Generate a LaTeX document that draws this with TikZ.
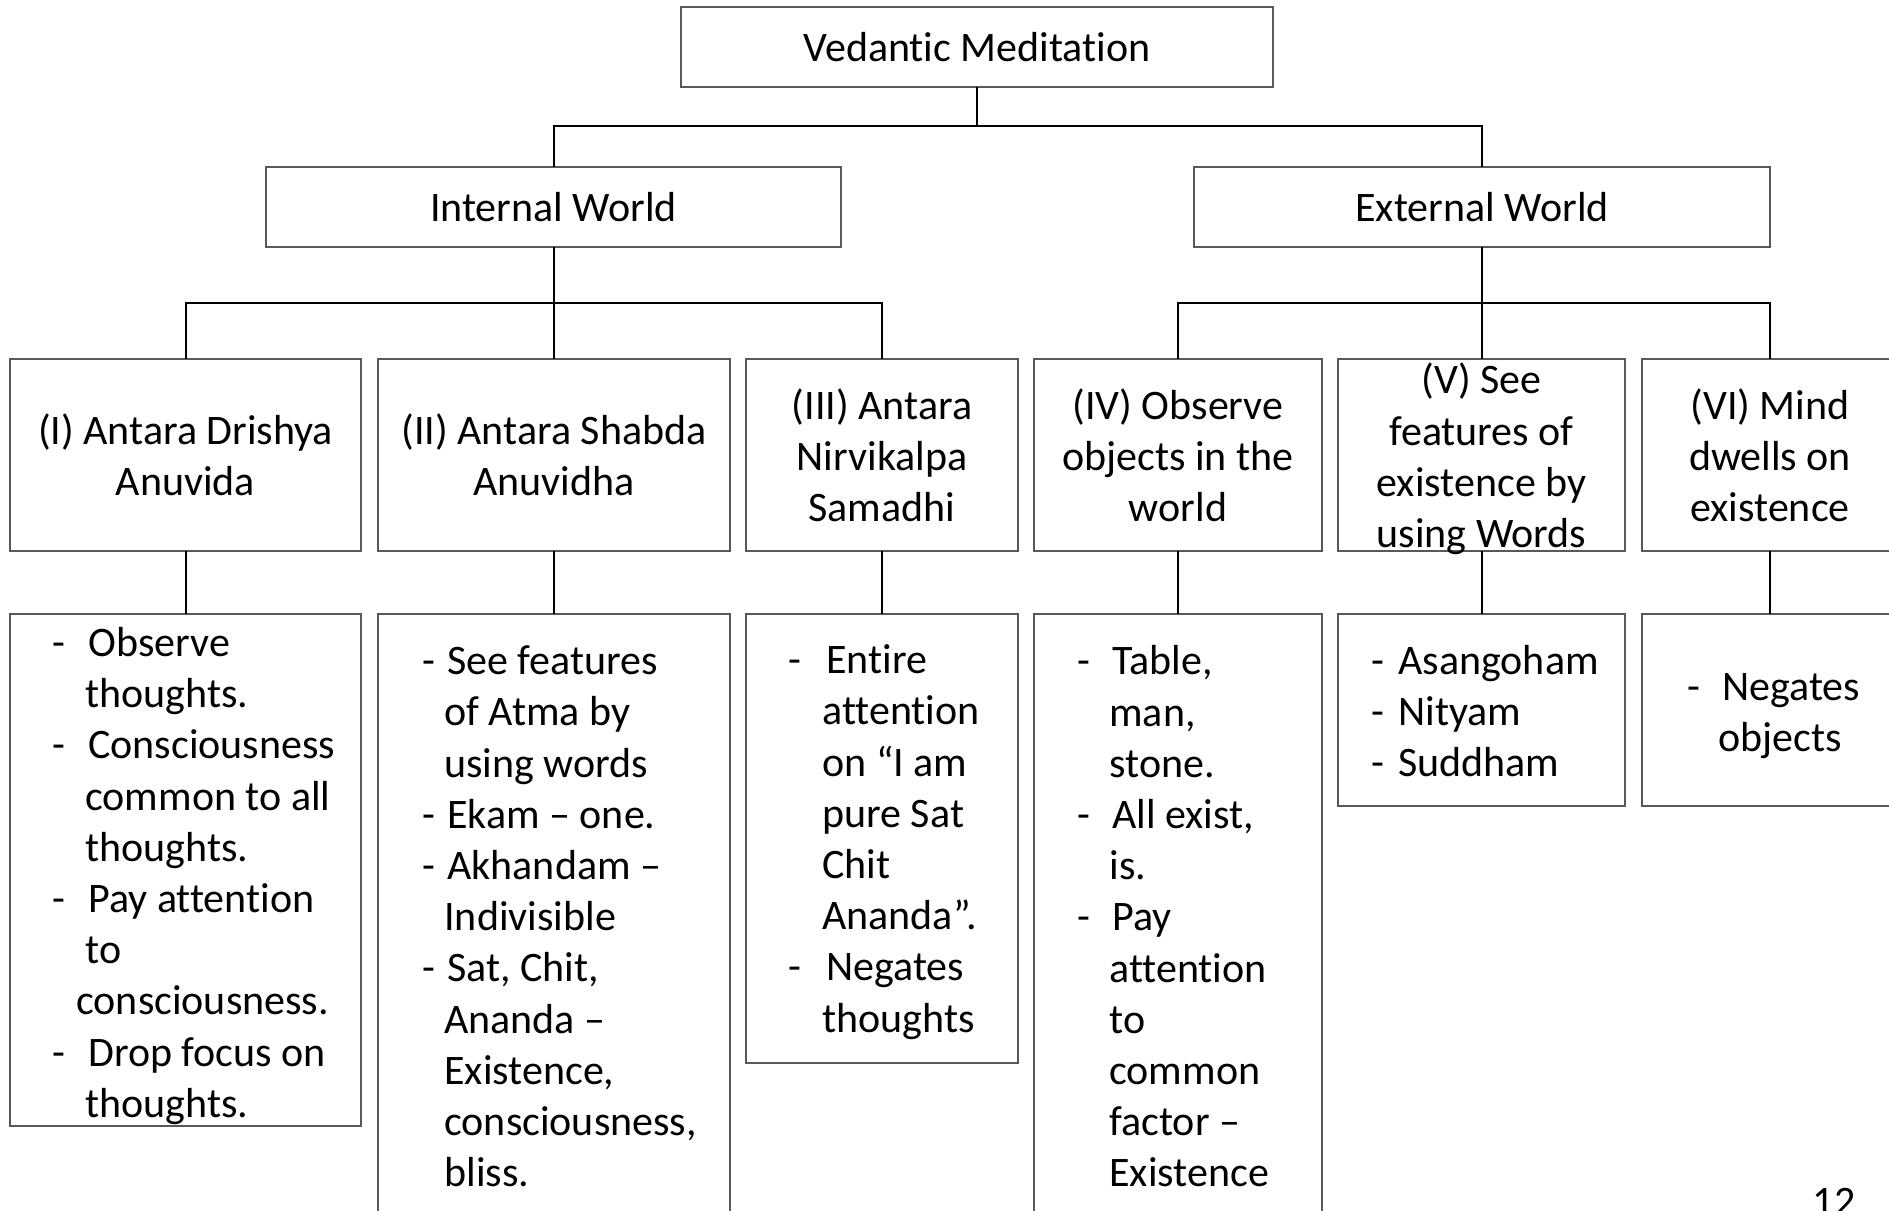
\documentclass[tikz,border=0pt]{standalone}
\usepackage{fontspec}
\setmainfont{Carlito}[Ligatures={TeX,NoCommon}]
\definecolor{boxgray}{HTML}{595959}
% a bullet line: dash, then the text at a fixed indent
\newcommand{\dl}[2]{\makebox[#1][l]{-}#2}
% a continuation line at its own indent
\newcommand{\cl}[2]{\hspace*{#1}#2}
\begin{document}
\begin{tikzpicture}[x=0.5pt,y=-0.5pt,
  frame/.style={draw=boxgray,line width=0.85pt,rectangle,inner sep=0pt,outer sep=0pt},
  link/.style={draw=black,line width=1pt},
  title/.style={inner sep=0pt,align=center,font=\fontsize{21}{25.6}\selectfont},
  items/.style={inner sep=0pt,align=left,anchor=west,font=\fontsize{21}{25.6}\selectfont}]
\useasboundingbox (0,0) rectangle (1889,1210);

% level 1
\node[frame,minimum width=296pt,minimum height=40pt] (top) at (977,47) {};
% level 2
\node[frame,minimum width=287.5pt,minimum height=40pt] (int) at (553.5,207) {};
\node[frame,minimum width=288pt,minimum height=40pt] (ext) at (1482,207) {};
% level 3
\node[frame,minimum width=175.5pt,minimum height=96pt] (a1) at (185.5,455) {};
\node[frame,minimum width=176pt,minimum height=96pt] (a2) at (554,455) {};
\node[frame,minimum width=136pt,minimum height=96pt] (a3) at (882,455) {};
\node[frame,minimum width=144pt,minimum height=96pt] (a4) at (1178,455) {};
\node[frame,minimum width=143.5pt,minimum height=96pt] (a5) at (1481.5,455) {};
\node[frame,minimum width=128pt,minimum height=96pt] (a6) at (1770,455) {};
% level 4
\node[frame,minimum width=175.5pt,minimum height=256pt] (b1) at (185.5,870) {};
\node[frame,minimum width=176pt,minimum height=301.5pt] (b2) at (554,915.5) {};
\node[frame,minimum width=136pt,minimum height=224.5pt] (b3) at (882,838.5) {};
\node[frame,minimum width=144pt,minimum height=301.5pt] (b4) at (1178,915.5) {};
\node[frame,minimum width=143.5pt,minimum height=96pt] (b5) at (1481.5,710) {};
\node[frame,minimum width=128pt,minimum height=96pt] (b6) at (1770,710) {};

% junctions of the bus lines
\coordinate (j0) at (977,126);
\coordinate (j1) at (553.5,303);
\coordinate (j2) at (1482,303);

% connectors
\draw[link] (top.south) -- (j0);
\draw[link] (int.north) |- (j0) -| (ext.north);
\draw[link] (int.south) -- (j1);
\draw[link] (a1.north) |- (j1) -| (a3.north);
\draw[link] (a2.north) -- (a2.north |- j1);
\draw[link] (ext.south) -- (j2);
\draw[link] (a4.north) |- (j2) -| (a6.north);
\draw[link] (a5.north) -- (a5.north |- j2);
\foreach \i in {1,...,6} \draw[link] (a\i.south) -- (b\i.north);

% headings
\node[title] (ttop) at (top.center) {Vedantic Meditation};
\node[title] (tint) at (int.center) {Internal World};
\node[title] (text) at (ext.center) {External World};
\node[title] (ta1) at (a1.center) {(I) Antara Drishya\\Anuvida};
\node[title] (ta2) at (a2.center) {(II) Antara Shabda\\Anuvidha};
\node[title] (ta3) at (a3.center) {(III) Antara\\Nirvikalpa\\Samadhi};
\node[title] (ta4) at (a4.center) {(IV) Observe\\objects in the\\world};
\node[title] (ta5) at (1481.5,459) {(V) See\\features of\\existence by\\using Words};
\node[title] (ta6) at (a6.center) {(VI) Mind\\dwells on\\existence};

% bullet lists
\node[items] (tb1) at (52,876) {\dl{18pt}{Observe}\\
  \cl{16.5pt}{thoughts.}\\
  \dl{18pt}{Consciousness}\\
  \cl{16.5pt}{common to all}\\
  \cl{16.5pt}{thoughts.}\\
  \dl{18pt}{Pay attention}\\
  \cl{16.5pt}{to}\\
  \cl{12pt}{consciousness.}\\
  \dl{18pt}{Drop focus on}\\
  \cl{16.5pt}{thoughts.}};
\node[items] (tb2) at (422,916.5) {\dl{12.5pt}{See features}\\
  \cl{11pt}{of Atma by}\\
  \cl{11pt}{using words}\\
  \dl{12.5pt}{Ekam – one.}\\
  \dl{12.5pt}{Akhandam –}\\
  \cl{11pt}{Indivisible}\\
  \dl{12.5pt}{Sat, Chit,}\\
  \cl{11pt}{Ananda –}\\
  \cl{11pt}{Existence,}\\
  \cl{11pt}{consciousness,}\\
  \cl{11pt}{bliss.}};
\node[items] (tb3) at (788,842) {\dl{19pt}{Entire}\\
  \cl{17pt}{attention}\\
  \cl{17pt}{on “I am}\\
  \cl{17pt}{pure Sat}\\
  \cl{17pt}{Chit}\\
  \cl{17pt}{Ananda”.}\\
  \dl{19pt}{Negates}\\
  \cl{17pt}{thoughts}};
\node[items] (tb4) at (1077,916.5) {\dl{17.5pt}{Table,}\\
  \cl{16pt}{man,}\\
  \cl{16pt}{stone.}\\
  \dl{17.5pt}{All exist,}\\
  \cl{16pt}{is.}\\
  \dl{17.5pt}{Pay}\\
  \cl{16pt}{attention}\\
  \cl{16pt}{to}\\
  \cl{16pt}{common}\\
  \cl{16pt}{factor –}\\
  \cl{16pt}{Existence}};
\node[items] (tb5) at (1371,711) {\dl{13.5pt}{Asangoham}\\
  \dl{13.5pt}{Nityam}\\
  \dl{13.5pt}{Suddham}};
\node[items] (tb6) at (1687,716) {\dl{17.5pt}{Negates}\\
  \cl{15.5pt}{objects}};

% page number
\node[title,anchor=base] (pg) at (1834,1215) {12};
\end{tikzpicture}
\end{document}
